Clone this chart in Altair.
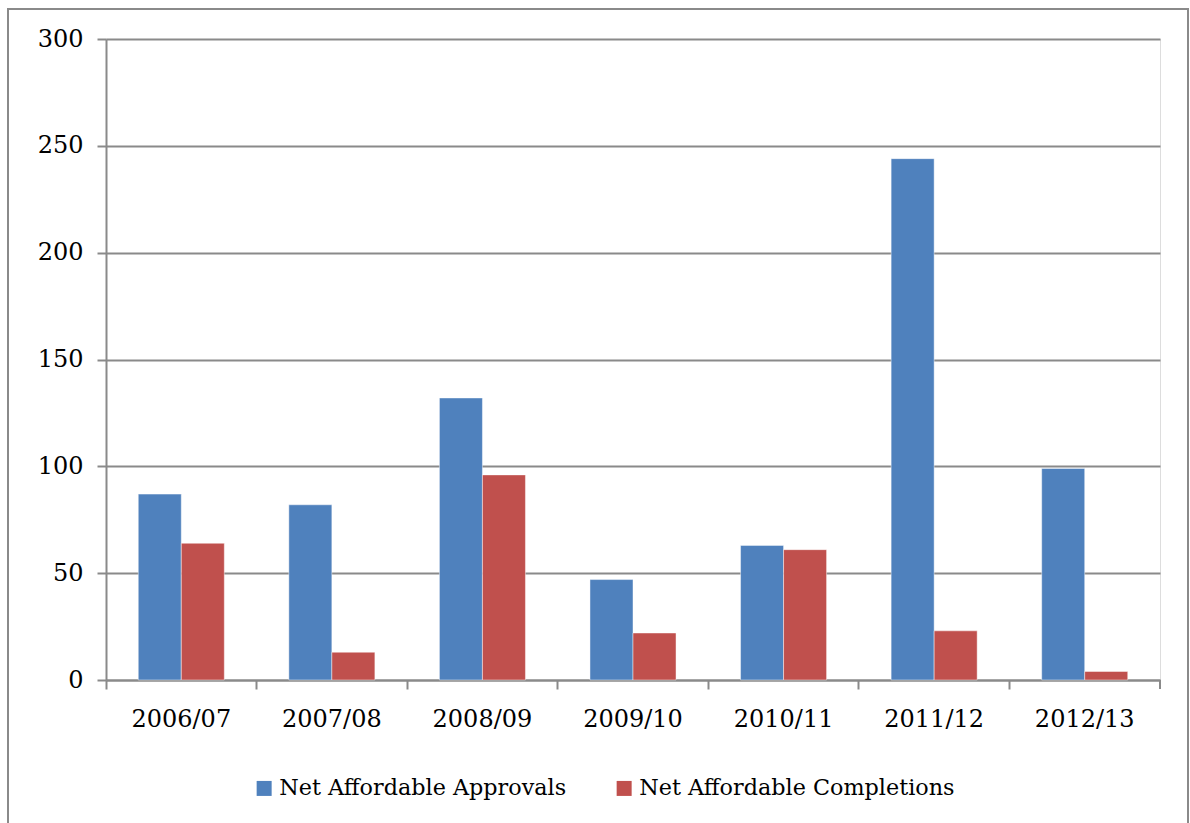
import altair as alt
import pandas as pd

# Net affordable housing units by financial year
years = ["2006/07", "2007/08", "2008/09", "2009/10", "2010/11", "2011/12", "2012/13"]
approvals = [87, 82, 132, 47, 63, 244, 99]
completions = [64, 13, 96, 22, 61, 23, 4]
series = ["Net Affordable Approvals", "Net Affordable Completions"]
colors = ["#4F81BD", "#C0504D"]
y_ticks = [0, 50, 100, 150, 200, 250, 300]

rows = []
for yr, a, c in zip(years, approvals, completions):
    rows.append({"year": yr, "series": series[0], "units": a})
    rows.append({"year": yr, "series": series[1], "units": c})
df = pd.DataFrame(rows)

FONT = "DejaVu Serif"
GRID = "#8a8a8a"
W, H = 1054, 641

bars = alt.Chart(df).mark_bar(
    stroke="white", strokeWidth=1, strokeOpacity=0.45
).encode(
    x=alt.X(
        "year:N",
        sort=years,
        scale=alt.Scale(paddingInner=0, paddingOuter=0),
        axis=alt.Axis(
            title=None,
            labelAngle=0,
            bandPosition=0,
            tickSize=9,
            tickColor=GRID,
            tickWidth=2,
            domainColor=GRID,
            domainWidth=2,
            labelFont=FONT,
            labelFontSize=24,
            labelColor="black",
            labelPadding=18,
            grid=False,
        ),
    ),
    xOffset=alt.XOffset(
        "series:N",
        sort=series,
        scale=alt.Scale(paddingInner=0, paddingOuter=0.75),
    ),
    y=alt.Y(
        "units:Q",
        scale=alt.Scale(domain=[0, 300], nice=False),
        axis=alt.Axis(
            title=None,
            values=y_ticks,
            tickSize=9,
            tickColor=GRID,
            tickWidth=2,
            domainColor=GRID,
            domainWidth=2,
            gridColor=GRID,
            gridWidth=2,
            labelFont=FONT,
            labelFontSize=24,
            labelColor="black",
            labelPadding=14,
        ),
    ),
    color=alt.Color(
        "series:N",
        sort=series,
        scale=alt.Scale(domain=series, range=colors),
        legend=alt.Legend(
            title=None,
            orient="none",
            direction="horizontal",
            legendX=147,
            legendY=738,
            symbolType="square",
            symbolSize=225,
            symbolStrokeWidth=0,
            labelFont=FONT,
            labelFontSize=22.3,
            labelColor="black",
            labelOffset=4,
            labelLimit=0,
            columnPadding=46,
            padding=0,
        ),
    ),
)

# the end tick closing the category axis on the right
end_tick = alt.Chart(alt.Data(values=[{}])).mark_rule(
    color=GRID, strokeWidth=2
).encode(x=alt.value(W), y=alt.value(H), y2=alt.value(H + 9))

# outer chart frame
frame = alt.Chart(alt.Data(values=[{}])).mark_rect(
    filled=False, stroke=GRID, strokeWidth=2
).encode(
    x=alt.value(-98), x2=alt.value(1082), y=alt.value(-30), y2=alt.value(810)
)

chart = alt.layer(frame, bars, end_tick).properties(
    width=W,
    height=H,
    autosize=alt.AutoSizeParams(type="none"),
    padding={"left": 106, "top": 39, "right": 30, "bottom": 143},
).configure_view(stroke=None).configure(background="white")

chart.save("out.html", embed_options={"renderer": "svg", "actions": False})
